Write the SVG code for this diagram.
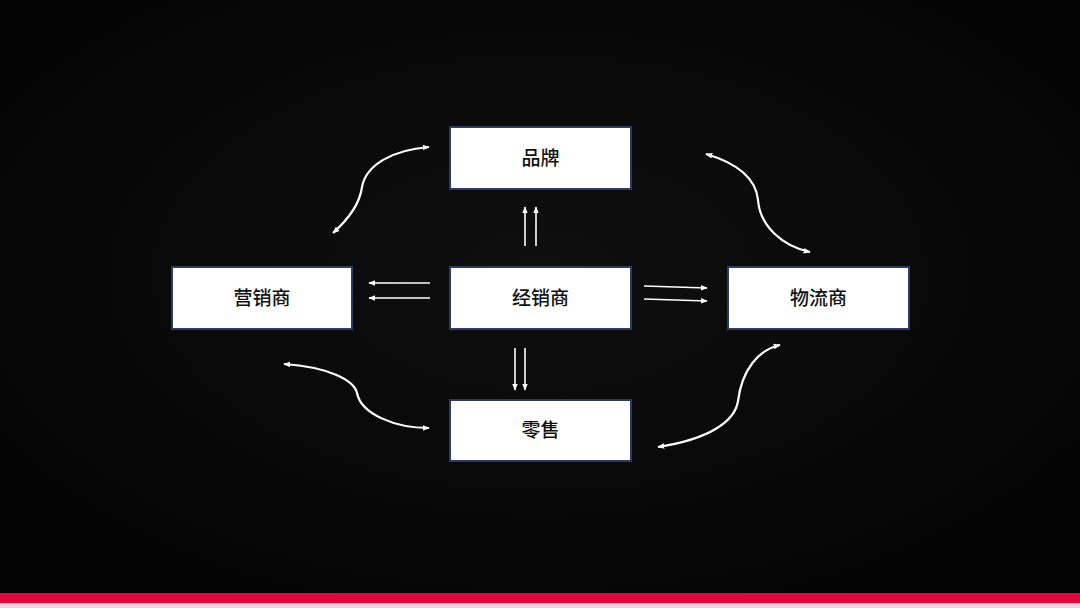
<svg xmlns="http://www.w3.org/2000/svg" width="1080" height="608" viewBox="0 0 1080 608">
<defs>
<radialGradient id="bg" cx="0.5" cy="0.45" r="0.6">
<stop offset="0" stop-color="#0f0f0f"/>
<stop offset="1" stop-color="#040404"/>
</radialGradient>
<marker id="ah" viewBox="0 0 10 10" refX="9" refY="5" markerWidth="7" markerHeight="7" markerUnits="userSpaceOnUse" orient="auto-start-reverse">
<path d="M0,1 L10,5 L0,9 Z" fill="#ffffff"/>
</marker>
<style>
.box{fill:#ffffff;stroke:#2b3b66;stroke-width:2}
.lbl{font-family:"Noto Sans CJK SC","Noto Sans",sans-serif;font-size:19px;font-weight:500;fill:#111111;text-anchor:middle;dominant-baseline:central}
.st{fill:none;stroke:#ffffff;stroke-width:1.6}
.cv{fill:none;stroke:#ffffff;stroke-width:2.2}
</style>
</defs>
<rect x="0" y="0" width="1080" height="608" fill="url(#bg)"/>
<rect x="0" y="593" width="1080" height="10" fill="#e5053a"/>
<rect x="0" y="603" width="1080" height="5" fill="#dcdcdc"/>
<g id="connectors">
<line class="st" x1="525" y1="246" x2="525" y2="207" marker-end="url(#ah)"/>
<line class="st" x1="536" y1="246" x2="536" y2="207" marker-end="url(#ah)"/>
<line class="st" x1="515" y1="348" x2="515" y2="390" marker-end="url(#ah)"/>
<line class="st" x1="525" y1="348" x2="525" y2="390" marker-end="url(#ah)"/>
<line class="st" x1="430" y1="283" x2="369" y2="283" marker-end="url(#ah)"/>
<line class="st" x1="430" y1="298" x2="369" y2="298" marker-end="url(#ah)"/>
<line class="st" x1="644" y1="286" x2="707" y2="288" marker-end="url(#ah)"/>
<line class="st" x1="644" y1="299" x2="707" y2="301" marker-end="url(#ah)"/>
<path class="cv" d="M333,233 C352,216 360,202 362,187 C366,165 392,150 429,147" marker-start="url(#ah)" marker-end="url(#ah)"/>
<path class="cv" d="M706,154 C740,164 756,180 758,200 C760,226 782,246 810,252" marker-start="url(#ah)" marker-end="url(#ah)"/>
<path class="cv" d="M284,364 C328,367 354,380 357,393 C361,414 395,428 429,428" marker-start="url(#ah)" marker-end="url(#ah)"/>
<path class="cv" d="M658,447 C710,439 735,421 738,401 C742,370 758,350 780,345" marker-start="url(#ah)" marker-end="url(#ah)"/>
</g>
<g id="node-brand"><rect class="box" x="450" y="127" width="181" height="62"/><text class="lbl" x="540.5" y="156">品牌</text></g>
<g id="node-marketer"><rect class="box" x="172" y="267" width="180" height="62"/><text class="lbl" x="262" y="296">营销商</text></g>
<g id="node-distributor"><rect class="box" x="450" y="267" width="181" height="62"/><text class="lbl" x="540.5" y="296">经销商</text></g>
<g id="node-logistics"><rect class="box" x="728" y="267" width="181" height="62"/><text class="lbl" x="818.5" y="296">物流商</text></g>
<g id="node-retail"><rect class="box" x="450" y="400" width="181" height="61"/><text class="lbl" x="540.5" y="428">零售</text></g>
</svg>
